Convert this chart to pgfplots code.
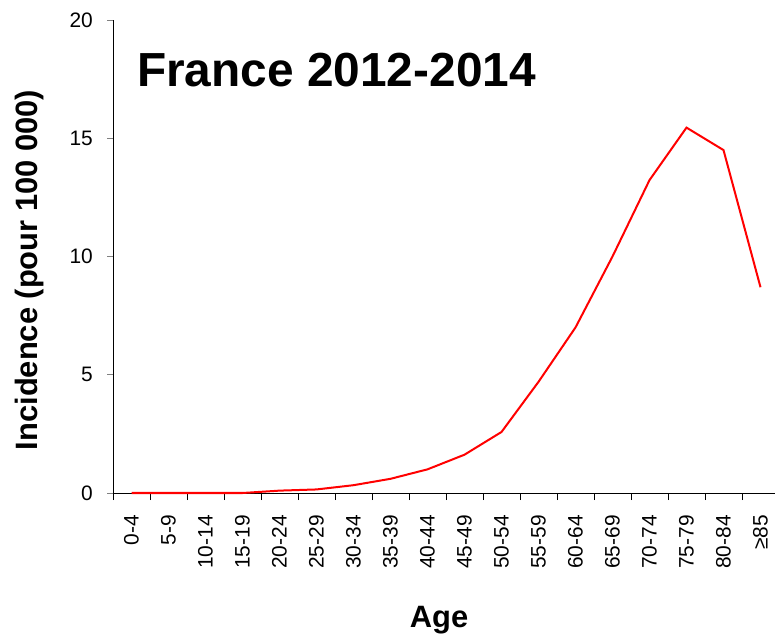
\documentclass[border=0pt]{standalone}
\usepackage{fontspec}
\setmainfont{Liberation Sans}
\usepackage{pgfplots}
\pgfplotsset{compat=1.18}
\begin{document}
\begin{tikzpicture}[x=1bp,y=1bp]
\begin{axis}[
  at={(113bp,144bp)}, anchor=south west,
  scale only axis, width=666bp, height=473bp,
  xmin=-0.5, xmax=17.5, ymin=0, ymax=20,
  axis lines=left, axis line style={-, line width=0.9bp},
  /pgf/number format/assume math mode=true,
  ytick={0,5,10,15,20},
  yticklabel style={font=\fontsize{21}{25}\selectfont, inner sep=0pt, xshift=-14bp},
  ytick align=outside, major tick length=6bp,
  xtick={0,...,17},
  xticklabels={0-4,5-9,10-14,15-19,20-24,25-29,30-34,35-39,40-44,45-49,50-54,55-59,60-64,65-69,70-74,75-79,80-84,≥85},
  x tick style={draw=none},
  minor xtick={-0.5,0.5,...,16.5},
  minor x tick style={draw=black, line width=0.8bp},
  minor tick length=7bp,
  xtick align=outside,
  xticklabel style={font=\fontsize{21}{25}\selectfont, yshift=-16bp, rotate=90, anchor=east, inner sep=0pt},
  tick style={line width=0.8bp},
  clip=false,
]
\addplot[red, line width=2bp] coordinates {
(0,0) (1,0) (2,0) (3,0) (4,0.1) (5,0.15) (6,0.33) (7,0.6) (8,1.0) (9,1.62) (10,2.58) (11,4.7) (12,7.0) (13,10.0) (14,13.23) (15,15.45) (16,14.5) (17,8.7)
};
\node[anchor=west, font=\bfseries\fontsize{48}{56}\selectfont, inner sep=0pt] at (axis description cs:0.036,0.894) {France 2012-2014};
\node[font=\bfseries\fontsize{31}{36}\selectfont, rotate=90] at (axis description cs:-0.1246,0.4715) {Incidence (pour 100 000)};
\node[font=\bfseries\fontsize{31}{36}\selectfont] at (axis description cs:0.4895,-0.2685) {Age};
\end{axis}
\pgfresetboundingbox
\path[use as bounding box] (0,0) rectangle (775bp,637bp);
\end{tikzpicture}
\end{document}
